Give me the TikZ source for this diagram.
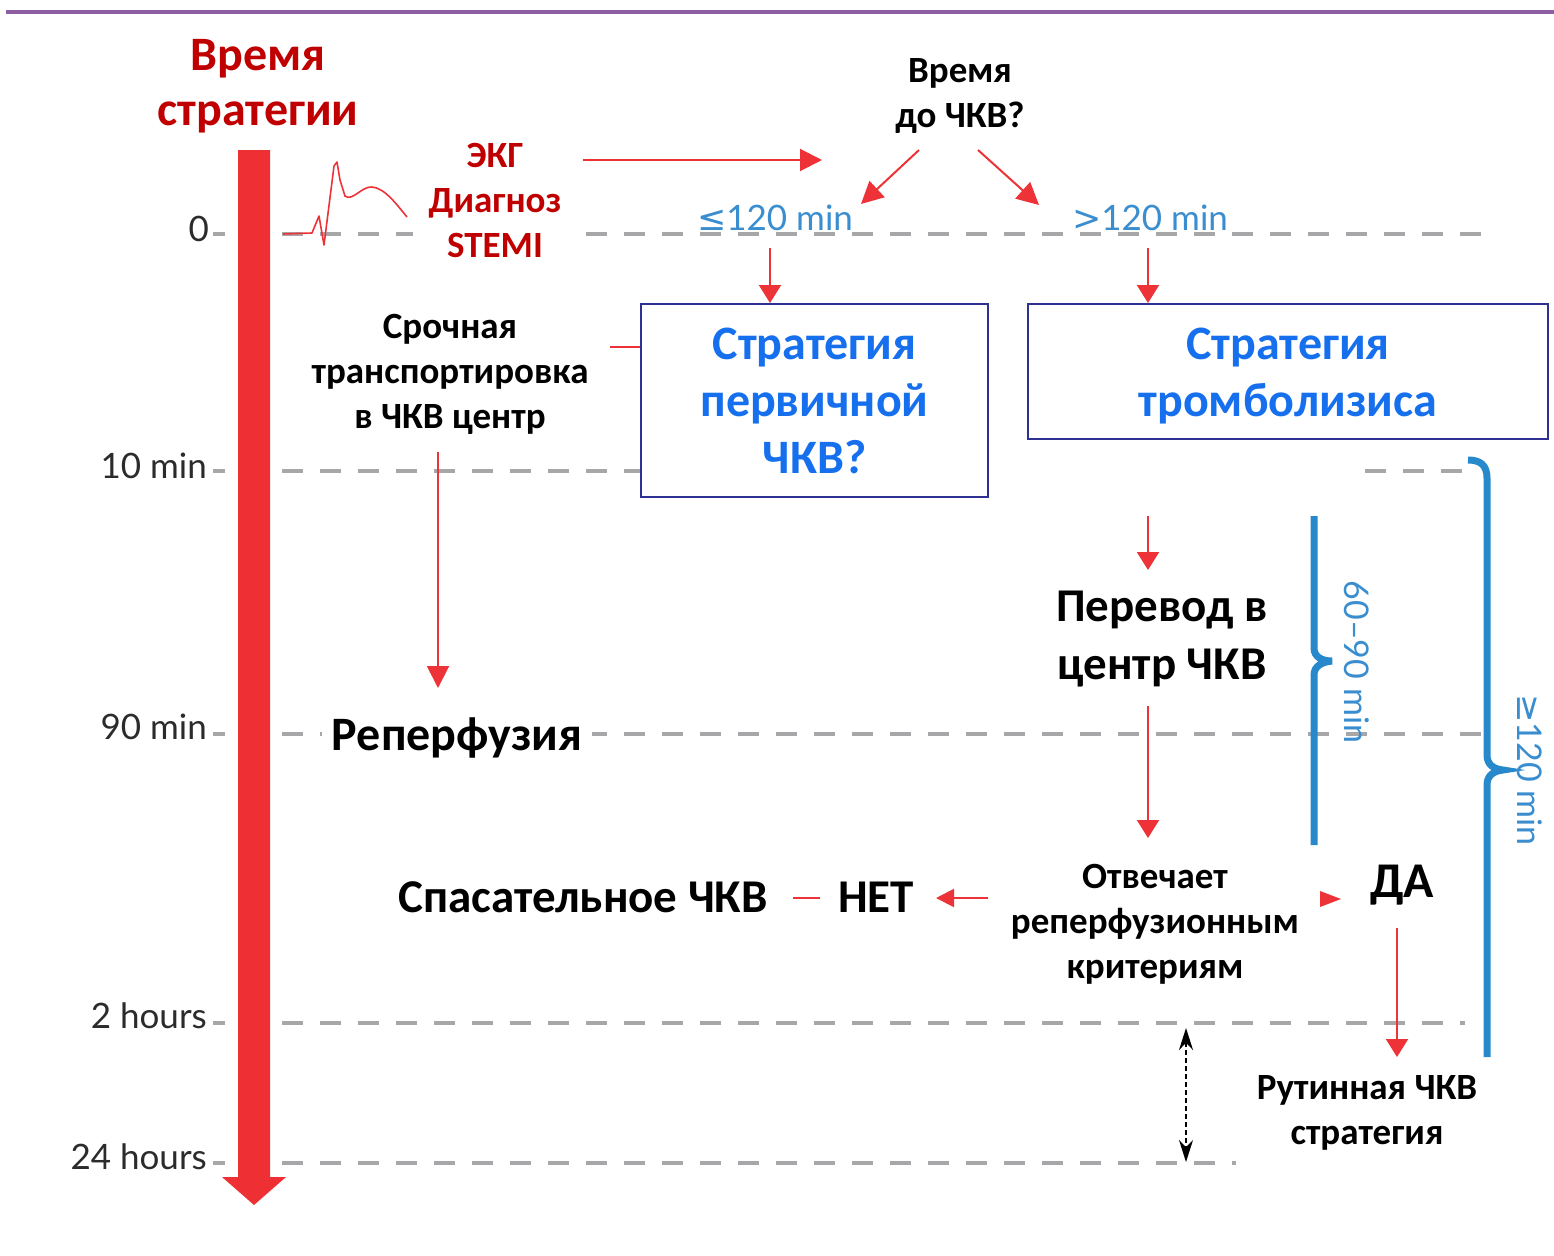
\documentclass[tikz,border=0pt]{standalone}
\usepackage{fontspec}
\setmainfont{Carlito}
\newfontfamily\gill{Lato}
\newfontfamily\dejavu{DejaVu Sans}
\usetikzlibrary{arrows.meta,calc}
\definecolor{darkred}{HTML}{C00000}
\definecolor{arrred}{HTML}{EE3338}
\definecolor{barred}{HTML}{EE3035}
\definecolor{boxblue}{HTML}{1670EE}
\definecolor{boxnavy}{HTML}{2E3192}
\definecolor{lblue}{HTML}{3A8ECF}
\definecolor{bblue}{HTML}{2888CC}
\definecolor{gdash}{HTML}{A7A7A9}
\definecolor{tgray}{HTML}{2B2B2B}
\definecolor{purp}{HTML}{8E5EA2}
\begin{document}
\begin{tikzpicture}[x=1pt,y=-1pt,
  gline/.style={draw=gdash, line width=4, dash pattern=on 21pt off 17pt},
  tick/.style={draw=gdash, line width=4},
  redarr/.style={draw=arrred, line width=2, -{Triangle[length=22,width=22]}},
  redline/.style={draw=arrred, line width=2},
  txt/.style={inner sep=0, align=center, text=black},
  tl/.style={anchor=east, inner sep=0, text=tgray, font=\gill\fontsize{35}{40}\selectfont},
  bl/.style={inner sep=0, text=lblue, font=\gill\fontsize{35}{40}\selectfont},
  stratbox/.style={draw=boxnavy, line width=2, fill=white, align=center, text=boxblue,
    font=\fontsize{48}{57}\selectfont\bfseries},
  strattext/.style={inner sep=0, align=center, text=boxblue,
    font=\fontsize{48}{57}\selectfont\bfseries},
  brace/.style={draw=bblue, line width=7}
]
\useasboundingbox (0,0) rectangle (1554,1255);
\fill[white] (0,0) rectangle (1554,1255);
% purple rule
\draw[purp, line width=4] (6,12) -- (1554,12);

% time grid
\foreach \y in {234,471,734,1023,1163} \draw[tick] (213,\y) -- (225,\y);
\draw[gline] (282,234) -- (1495,234);
\draw[gline] (282,471) -- (641,471);
\draw[gline] (1365,471) -- (1465,471);
\draw[gline] (282,734) -- (1495,734);
\draw[gline] (282,1023) -- (1465,1023);
\draw[gline] (282,1163) -- (1236,1163);

% time labels
\node[tl] (t0)  at (209,229) {0};
\node[tl] (t10) at (207,466) {10 min};
\node[tl] (t90) at (207,727) {90 min};
\node[tl] (t2h) at (207,1016) {2 hours};
\node[tl] (t24) at (207,1157) {24 hours};

% big red time arrow
\fill[barred] (238,150) -- (270,150) -- (270,1177) -- (286,1177) -- (254,1205)
  -- (222,1177) -- (238,1177) -- cycle;

% ECG trace
\draw[arrred, line width=1.6, line join=round]
  (283,234) -- (312,233) -- (319,216) -- (324,245) -- (334,166) -- (337,162)
  -- (340,180) -- (345,196) .. controls (352,202) and (362,186) .. (372,187)
  .. controls (385,188) and (397,205) .. (407,217);

% title
\node[txt, text=darkred, font=\fontsize{48}{55}\selectfont\bfseries] (title) at (258,86)
  {Время\\стратегии};

% ECG diagnosis
\node[txt, text=darkred, fill=white, inner xsep=16, inner ysep=2,
  font=\fontsize{37}{45}\selectfont\bfseries] (ecgt) at (495,200) {ЭКГ\\Диагноз\\STEMI};

% time to PCI
\node[txt, font=\fontsize{37}{45}\selectfont\bfseries] (ptime) at (960,96) {Время\\до ЧКВ?};

% blue time labels
\node[bl] (le) at (775,218) {{\dejavu ≤}120 min};
\node[bl] (gt) at (1150,218) {{\dejavu >}120 min};

% boxes
\node[stratbox, minimum width=347, minimum height=193] (box1) at (814.5,400.5)
  {Стратегия\\первичной\\ЧКВ?};
\node[stratbox, minimum width=520, minimum height=135] (box2) at (1288,371.5) {};
\node[strattext] (box2t) at (1288,376) {Стратегия\\тромболизиса};

% transport
\node[txt, font=\fontsize{37}{45}\selectfont\bfseries] (transp) at (450,374)
  {Срочная\\транспортировка\\в ЧКВ центр};

% reperfusion
\node[txt, fill=white, inner xsep=10, inner ysep=4, font=\fontsize{48}{54}\selectfont\bfseries]
  (reperf) at (457,738) {Реперфузия};

% transfer
\node[txt, font=\fontsize{47}{58}\selectfont\bfseries] (perevod) at (1162,639)
  {Перевод в\\центр ЧКВ};

% rescue / no / criteria / yes
\node[txt, font=\fontsize{47}{52}\selectfont\bfseries] (spas) at (583,897) {Спасательное ЧКВ};
\node[txt, font=\fontsize{47}{52}\selectfont\bfseries] (net) at (876,897) {НЕТ};
\node[txt, font=\fontsize{37}{45}\selectfont\bfseries] (otv) at (1155,924)
  {Отвечает\\реперфузионным\\критериям};
\node[txt, font=\fontsize{50}{52}\selectfont\bfseries] (da) at (1402,885) {ДА};

% routine PCI
\node[txt, fill=white, inner xsep=10, inner ysep=4, font=\fontsize{37}{45}\selectfont\bfseries]
  (rout) at (1367,1113) {Рутинная ЧКВ\\стратегия};

% coordinates for arrow ends
\coordinate (ecgA) at (583,160);   \coordinate (ecgB) at (822,160);
\coordinate (ptL) at (919,150);    \coordinate (ptLe) at (861,204);
\coordinate (ptR) at (978,150);    \coordinate (ptRe) at (1039,205);
\coordinate (leA) at (770,248);    \coordinate (leB) at (770,303);
\coordinate (gtA) at (1148,248);   \coordinate (gtB) at (1148,303);
\coordinate (stub) at (610,347);
\coordinate (trA) at (438,452);    \coordinate (trB) at (438,688);
\coordinate (b2A) at (1148,516);   \coordinate (b2B) at (1148,570);
\coordinate (pvA) at (1148,706);   \coordinate (pvB) at (1148,838);
\coordinate (otvW) at (988,898);   \coordinate (netE) at (936,898);
\coordinate (spE) at (793,898);    \coordinate (netW) at (820,898);
\coordinate (daA) at (1320,899);   \coordinate (daW) at (1341,899);
\coordinate (daS) at (1397,928);   \coordinate (routN) at (1397,1057);
\coordinate (dbA) at (1186,1028);  \coordinate (dbB) at (1186,1162);

% red connectors
\draw[redarr] (ecgA) -- (ecgB);
\draw[redarr] (ptL) -- (ptLe);
\draw[redarr] (ptR) -- (ptRe);
\draw[redarr, -{Triangle[length=18,width=22]}] (leA) -- (leB);
\draw[redarr, -{Triangle[length=18,width=22]}] (gtA) -- (gtB);
\draw[redline] (stub) -- (stub -| box1.west);
\draw[redarr] (trA) -- (trB);
\draw[redarr, -{Triangle[length=18,width=22]}] (b2A) -- (b2B);
\draw[redarr, -{Triangle[length=18,width=22]}] (pvA) -- (pvB);
\draw[redarr, -{Triangle[length=18,width=18]}] (otvW) -- (netE);
\draw[redline] (spE) -- (netW);
\draw[draw=none, fill=arrred] (daA) ++(0,-8) -- (daW) -- ($(daA)+(0,8)$) -- cycle;
\draw[redarr, -{Triangle[length=18,width=22]}] (daS) -- (routN);

% black dashed double arrow
\draw[black, line width=1.5, dash pattern=on 5pt off 3pt,
  {Stealth[length=22,width=14]}-{Stealth[length=22,width=14]}] (dbA) -- (dbB);

% braces
\draw[brace] (1314,516) -- (1314,648) .. controls (1314,657) and (1322,661) .. (1332,661)
  .. controls (1322,662) and (1314,666) .. (1314,675) -- (1314,845);
\draw[brace] (1468,460) .. controls (1480,460) and (1487,465) .. (1487,478) -- (1487,755)
  .. controls (1487,765) and (1494,769) .. (1503,770)
  .. controls (1494,771) and (1487,775) .. (1487,785) -- (1487,1057);
\node[bl, rotate=-90, font=\gill\fontsize{34}{40}\selectfont] (b1l) at (1357,662) {60–90 min};
\node[bl, rotate=-90, font=\gill\fontsize{34}{40}\selectfont] (b2l) at (1530,770) {{\dejavu ≥}120 min};
\end{tikzpicture}
\end{document}
